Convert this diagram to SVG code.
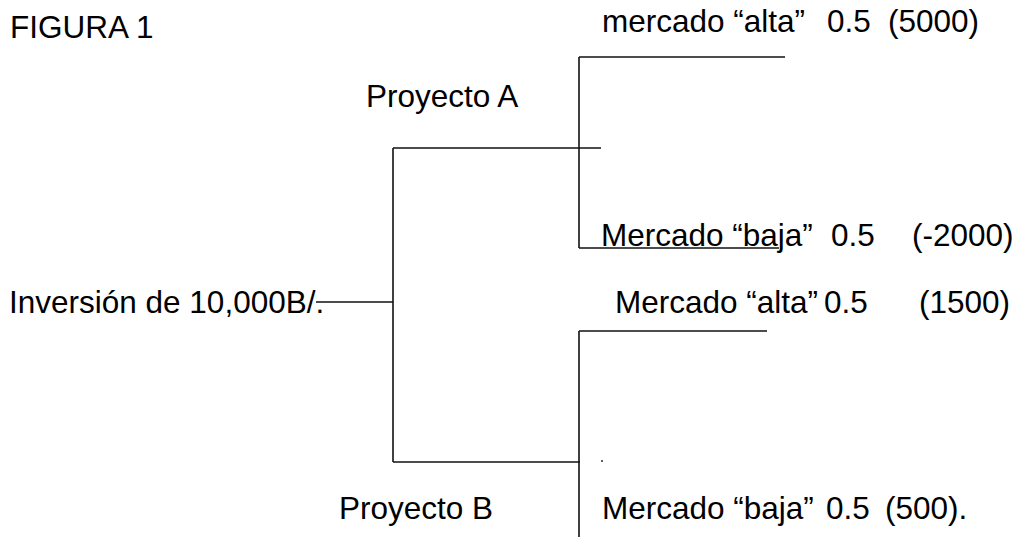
<svg xmlns="http://www.w3.org/2000/svg" width="1018" height="537" viewBox="0 0 1018 537">
<style>
text{font-family:"Liberation Sans",Arial,sans-serif;font-size:31.5px;fill:#000}
.ln{stroke:#111;stroke-width:1.6;fill:none}
</style>
<rect width="1018" height="537" fill="#fff"/>
<g id="title"><text x="10" y="38">FIGURA 1</text></g>
<g id="root"><text x="9" y="313">Inversión de 10,000B/.</text></g>
<g id="proyA"><text x="366" y="107">Proyecto A</text></g>
<g id="proyB"><text x="339" y="519">Proyecto B</text></g>
<g id="A-alta"><text y="32"><tspan x="602">mercado “alta”</tspan><tspan x="827">0.5</tspan><tspan x="888">(5000)</tspan></text></g>
<g id="A-baja"><text y="246"><tspan x="601">Mercado “baja”</tspan><tspan x="831">0.5</tspan><tspan x="912">(-2000)</tspan></text></g>
<g id="B-alta"><text y="313"><tspan x="615">Mercado “alta”</tspan><tspan x="824">0.5</tspan><tspan x="919">(1500)</tspan></text></g>
<g id="B-baja"><text y="519"><tspan x="602">Mercado “baja”</tspan><tspan x="826">0.5</tspan><tspan x="885">(500).</tspan></text></g>
<g id="connectors" class="ln">
<path d="M316 302H393"/>
<path d="M393 148V462"/>
<path d="M393 148H601"/>
<path d="M393 462H580"/>
<path d="M579 57V248"/>
<path d="M579 57H785"/>
<path d="M579 248H779"/>
<path d="M579 331V537"/>
<path d="M579 331H767"/>
</g>
<circle cx="602" cy="461" r="0.9" fill="#111"/>
</svg>
